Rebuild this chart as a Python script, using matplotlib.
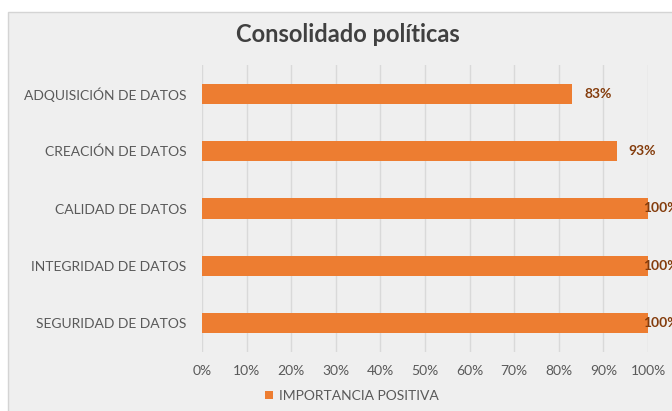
import matplotlib.pyplot as plt
from matplotlib.patches import Rectangle
from matplotlib.ticker import PercentFormatter

categories = ['SEGURIDAD DE DATOS', 'INTEGRIDAD DE DATOS', 'CALIDAD DE DATOS',
              'CREACIÓN DE DATOS', 'ADQUISICIÓN DE DATOS']
values = [1.00, 1.00, 1.00, 0.93, 0.83]
labels = ['100%', '100%', '100%', '93%', '83%']
series_name = 'IMPORTANCIA POSITIVA'
title = 'Consolidado políticas'

ORANGE = '#ed7d31'
plt.rcParams['font.family'] = ['Lato', 'DejaVu Sans']

fig = plt.figure(figsize=(6.72, 4.11), dpi=100)
fig.patches.append(Rectangle((8 / 672, -0.01), 1.0, 1 - 12 / 411 + 0.01,
                             transform=fig.transFigure, facecolor='#efefef',
                             edgecolor='#d4d4d4', linewidth=1.0, zorder=-1))

ax = fig.add_axes([202 / 672, 59 / 411, 446 / 672, 287 / 411])
ax.set_facecolor('none')

pos = range(len(categories))
ax.barh(pos, values, height=0.35, color=ORANGE, label=series_name, zorder=3)

for y, v, lab in zip(pos, values, labels):
    ax.text(min(v + 0.027, 0.99), y, lab, va='center', ha='left', fontsize=10,
            fontweight='bold', color='#843c0c', zorder=4, clip_on=False)

ax.set_xlim(0, 1)
ax.set_ylim(-0.5, len(categories) - 0.5)
ax.set_xticks([i / 10 for i in range(11)])
ax.xaxis.set_major_formatter(PercentFormatter(1.0, decimals=0))
ax.set_yticks(list(pos))
ax.set_yticklabels(categories)
ax.tick_params(axis='both', length=0, labelsize=10, labelcolor='#595959')
ax.tick_params(axis='x', pad=9)
ax.tick_params(axis='y', pad=11)
ax.grid(axis='x', color='#d9d9d9', linewidth=1.0, zorder=0)
for s in ax.spines.values():
    s.set_visible(False)

fig.text(348 / 672, 1 - 35 / 411, title, ha='center', va='center', fontsize=17,
         fontweight='bold', color='#404040')

fig.legend(loc='center', bbox_to_anchor=(352 / 672, 1 - 396 / 411), frameon=False,
           fontsize=10, labelcolor='#595959', handlelength=0.55, handleheight=0.55,
           handletextpad=0.45)

fig.savefig('out.png', dpi=100)
